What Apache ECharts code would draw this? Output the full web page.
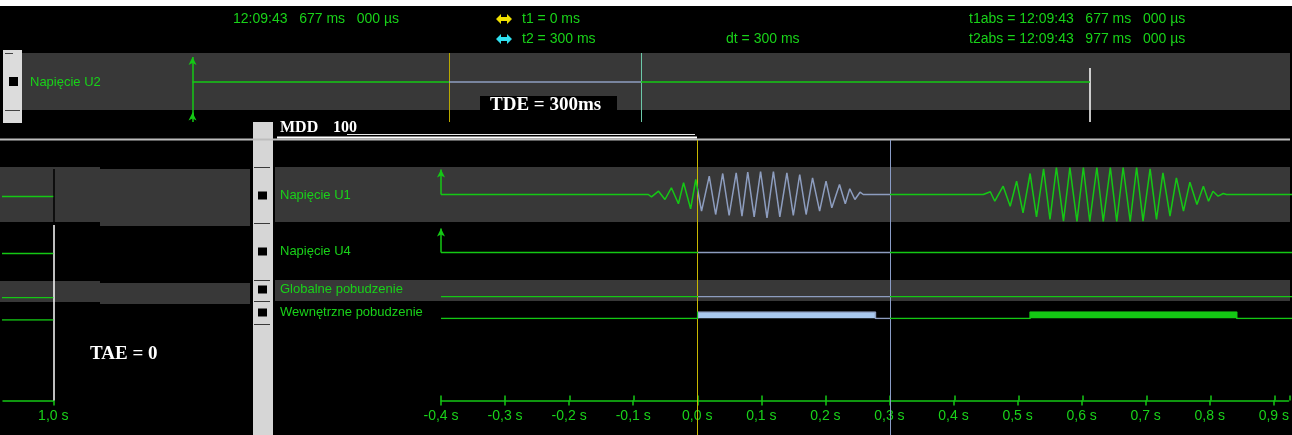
<!DOCTYPE html>
<html><head><meta charset="utf-8">
<script src="https://cdn.jsdelivr.net/npm/echarts@6/dist/echarts.min.js"></script>
<style>html,body{margin:0;padding:0;background:#000;}#c{width:1292px;height:435px;}</style>
</head><body><div id="c"></div>
<script>
// ---------------- data ----------------
const recStart = -0.4, recEnd = 1.0;          // recording range, s
const cursorT1 = 0.0, cursorT2 = 0.3;         // cursors, s
const channelNames = ['Napięcie U2', 'Napięcie U1', 'Napięcie U4', 'Globalne pobudzenie', 'Wewnętrzne pobudzenie'];
const headerTime = '12:09:43   677 ms   000 µs';
const headerT1 = 't1 = 0 ms';
const headerT2 = 't2 = 300 ms';
const headerDt = 'dt = 300 ms';
const headerT1abs = 't1abs = 12:09:43   677 ms   000 µs';
const headerT2abs = 't2abs = 12:09:43   977 ms   000 µs';
const tdeText = 'TDE = 300ms';
const taeText = 'TAE = 0';
// U1 burst 1 (time s, value) – extremes
const u1Burst1 = [[-0.077,0],[-0.072,-2.3],[-0.061,3.3],[-0.051,-5],[-0.041,6.7],[-0.030,-9.3],[-0.022,11.7],[-0.011,-14.3],[-0.003,15],
  [0.006,-16.7],[0.018,18.3],[0.028,-20],[0.039,21],[0.049,-21],[0.060,21.7],[0.069,-21.7],[0.078,22.3],[0.088,-22.3],[0.098,23],
  [0.108,-23.3],[0.118,23],[0.128,-22.3],[0.139,21.7],[0.149,-21],[0.159,20],[0.169,-20],[0.179,16.7],[0.190,-16.7],[0.200,13.3],
  [0.209,-13.3],[0.221,10],[0.230,-9.3],[0.237,5.7],[0.245,-5],[0.253,2.3],[0.258,0]];
// U1 burst 2
const u1Burst2 = [[0.445,0],[0.448,-1.7],[0.456,2.7],[0.463,-6.7],[0.476,8.3],[0.487,-11.7],[0.497,13.3],[0.507,-18.3],[0.518,21],
  [0.528,-22.3],[0.539,25.7],[0.549,-25],[0.559,27],[0.570,-26.7],[0.580,27],[0.591,-27],[0.601,27],[0.611,-27],[0.622,27],
  [0.632,-27],[0.643,27],[0.653,-27],[0.663,27],[0.674,-27],[0.684,27],[0.694,-26.7],[0.705,25.7],[0.715,-25],[0.725,21.7],
  [0.736,-21.7],[0.746,16.7],[0.757,-16.7],[0.767,12.3],[0.778,-10],[0.788,8.3],[0.796,-6.7],[0.803,3.3],[0.811,-1.7],[0.819,1],[0.824,0]];
const u1Values = [[recStart,0]].concat(u1Burst1, [[cursorT2,0]], u1Burst2, [[recEnd,0]]);
const u2Values = [[recStart,0],[cursorT1,0],[cursorT2,0],[recEnd,0]];
const u4Values = [[recStart,0],[cursorT1,0],[cursorT2,0],[recEnd,0]];
const globValues = [[recStart,0],[cursorT1,0],[cursorT2,0],[recEnd,0]];
const wewValues = [[recStart,0],[0.0,1],[0.277,0],[0.518,1],[0.840,0],[recEnd,0]];   // step 'end'

// ---------------- style ----------------
const GREEN = '#14c814', SEL = '#8d9dbf', SELFILL = '#a9c8ee', TXT = '#19d219';
const FONT = '"Liberation Sans", Arial, sans-serif';
const SERIF = '"Liberation Serif", "Times New Roman", serif';

const chart = echarts.init(document.getElementById('c'), null, {renderer: 'canvas'});

// view ranges (scale ~641.7 px/s)
const mainMin = -0.4, mainMax = 0.923;
const topMin = -0.666, topMax = 1.312;
const leftMin = 0.9216, leftMax = 1.0;

const grids = [], xAxes = [], yAxes = [], series = [];
function addGrid(g, x, y) {
  grids.push(Object.assign({containLabel: false}, g));
  const i = grids.length - 1;
  xAxes.push(Object.assign({gridIndex: i, type: 'value', show: false}, x));
  yAxes.push(Object.assign({gridIndex: i, type: 'value', show: false}, y || {min: -1, max: 1}));
  return i;
}
function lineSeries(gi, data, extra) {
  return Object.assign({type: 'line', xAxisIndex: gi, yAxisIndex: gi, data: data, symbol: 'none', silent: true,
    animation: false, color: GREEN, lineStyle: {width: 1.5}, z: 5}, extra || {});
}
const arrowMark = (data) => ({
  silent: true, symbol: ['none', 'arrow'], symbolSize: [6, 8], animation: false,
  lineStyle: {color: GREEN, width: 1.5, type: 'solid'}, label: {show: false}, data: data
});

const visualLineSeries = [], visualFillSeries = [];

// top panel U2 (grid reaches below band so that arrows fit)
const gTop = addGrid({left: 22, top: 53, width: 1268, height: 69}, {min: topMin, max: topMax}, {min: -1.38, max: 1});
series.push(lineSeries(gTop, u2Values, {markLine: arrowMark([
  [{coord: [recStart, -1.2]}, {coord: [recStart, 0.86]}],
  [{coord: [recStart, -1.38]}, {coord: [recStart, -1.05]}]
])}));
visualLineSeries.push(series.length - 1);
// top cursors
const gTopCur = addGrid({left: 22, top: 53, width: 1268, height: 69}, {min: topMin, max: topMax});
series.push(lineSeries(gTopCur, [], {markLine: {silent: true, symbol: 'none', animation: false, label: {show: false},
  data: [{xAxis: cursorT1, lineStyle: {color: '#b8a800', width: 1, type: 'solid'}},
         {xAxis: cursorT2, lineStyle: {color: '#6cc8a8', width: 1, type: 'solid'}}]}}));
const gTopEnd = addGrid({left: 22, top: 68, width: 1268, height: 54}, {min: topMin, max: topMax});
series.push(lineSeries(gTopEnd, [], {markLine: {silent: true, symbol: 'none', animation: false, label: {show: false},
  data: [{xAxis: recEnd, lineStyle: {color: '#ffffff', width: 1.5, type: 'solid'}}]}}));

// main right panel rows
const gU1 = addGrid({left: 441, top: 167, width: 849, height: 55}, {min: mainMin, max: mainMax}, {min: -27.5, max: 27.5});
series.push(lineSeries(gU1, u1Values, {markLine: arrowMark([[{coord: [recStart, 0]}, {coord: [recStart, 25]}]])}));
visualLineSeries.push(series.length - 1);
const gU4 = addGrid({left: 441, top: 225, width: 849, height: 55}, {min: mainMin, max: mainMax}, {min: -27.5, max: 27.5});
series.push(lineSeries(gU4, u4Values, {markLine: arrowMark([[{coord: [recStart, 0]}, {coord: [recStart, 24]}]])}));
visualLineSeries.push(series.length - 1);
const gGlob = addGrid({left: 441, top: 280, width: 849, height: 16.7}, {min: mainMin, max: mainMax}, {min: 0, max: 1});
series.push(lineSeries(gGlob, globValues));
visualLineSeries.push(series.length - 1);
const gWew = addGrid({left: 441, top: 312, width: 849, height: 6.5}, {min: mainMin, max: mainMax}, {min: 0, max: 1});
series.push(lineSeries(gWew, wewValues, {step: 'end', lineStyle: {width: 0}, areaStyle: {opacity: 1}, z: 4}));
visualFillSeries.push(series.length - 1);
series.push(lineSeries(gWew, wewValues, {step: 'end'}));
visualLineSeries.push(series.length - 1);

// main time axis (ticks out + labels)
const axisLabelFmt = v => v.toFixed(1).replace('.', ',') + ' s';
const gAx = addGrid({left: 441, top: 300, width: 849, height: 100.5},
  {show: true, min: mainMin, max: mainMax, interval: 0.1, position: 'bottom',
   axisLine: {show: true, onZero: false, lineStyle: {color: GREEN, width: 1.5}},
   axisTick: {show: true, length: 5, lineStyle: {color: GREEN, width: 1.5}},
   axisLabel: {show: true, color: TXT, fontFamily: FONT, fontSize: 14, margin: 9, formatter: axisLabelFmt, showMaxLabel: false},
   splitLine: {show: false}});
series.push(lineSeries(gAx, []));
const gAx2 = addGrid({left: 441, top: 300, width: 849, height: 100.5},
  {show: true, min: mainMin, max: mainMax, interval: 0.1, position: 'bottom',
   axisLine: {show: false, onZero: false}, axisTick: {show: true, inside: true, length: 5, lineStyle: {color: GREEN, width: 1.5}},
   axisLabel: {show: false}, splitLine: {show: false}});
series.push(lineSeries(gAx2, []));

// cursor lines over right panel
const gCur = addGrid({left: 441, top: 140, width: 849, height: 295}, {min: mainMin, max: mainMax});
series.push(lineSeries(gCur, [], {z: 8, markLine: {silent: true, symbol: 'none', animation: false, label: {show: false},
  data: [{xAxis: cursorT1, lineStyle: {color: '#c8b800', width: 1, type: 'solid'}},
         {xAxis: cursorT2, lineStyle: {color: '#8a9cc6', width: 1, type: 'solid'}}]}}));

// left mini panel (end of recording)
const gU1L = addGrid({left: 3, top: 169, width: 50.3, height: 55}, {min: leftMin, max: leftMax}, {min: -27.5, max: 27.5});
series.push(lineSeries(gU1L, u1Values, {markLine: {silent: true, symbol: 'none', animation: false, label: {show: false},
  data: [{xAxis: recEnd, lineStyle: {color: '#000', width: 1.5, type: 'solid'}}]}}));
const gU4L = addGrid({left: 3, top: 226, width: 50.3, height: 55}, {min: leftMin, max: leftMax}, {min: -27.5, max: 27.5});
series.push(lineSeries(gU4L, u4Values));
const gGlobL = addGrid({left: 3, top: 281, width: 50.3, height: 16.7}, {min: leftMin, max: leftMax}, {min: 0, max: 1});
series.push(lineSeries(gGlobL, globValues));
const gWewL = addGrid({left: 3, top: 313.5, width: 50.3, height: 6.5}, {min: leftMin, max: leftMax}, {min: 0, max: 1});
series.push(lineSeries(gWewL, wewValues, {step: 'end'}));
const gAxL = addGrid({left: 3, top: 225, width: 50.3, height: 175.5},
  {show: true, min: leftMin, max: leftMax, position: 'bottom',
   axisLine: {show: true, onZero: false, lineStyle: {color: GREEN, width: 1.5}},
   axisTick: {show: true, length: 5, customValues: [recEnd], lineStyle: {color: GREEN, width: 1.5}},
   axisLabel: {show: true, color: TXT, fontFamily: FONT, fontSize: 14, margin: 9, customValues: [recEnd], formatter: axisLabelFmt},
   splitLine: {show: false}});
series.push(lineSeries(gAxL, [], {z: 6, markLine: {silent: true, symbol: 'none', animation: false, label: {show: false},
  data: [{xAxis: recEnd, lineStyle: {color: '#ffffff', width: 1.5, type: 'solid'}}]}}));

// ---------------- graphics (panels, labels, texts) ----------------
const G = [];
const rect = (x, y, w, h, fill, z) => G.push({type: 'rect', shape: {x, y, width: w, height: h}, style: {fill}, z: z || 0, silent: true});
const line = (x1, y1, x2, y2, stroke, w, z) => G.push({type: 'line', shape: {x1, y1, x2, y2}, style: {stroke, lineWidth: w || 1}, z: z || 1, silent: true});
const text = (x, y, s, fill, font, extra) => G.push(Object.assign({type: 'text', x, y, style: {text: s, fill, font, textVerticalAlign: 'middle', textBaseline: 'middle'}, z: 10, silent: true}, extra || {}));
const dblArrow = (x, y, fill) => G.push({type: 'polygon', x, y, shape: {points: [[0,0],[5,-5],[5,-2],[11,-2],[11,-5],[16,0],[11,5],[11,2],[5,2],[5,5]]}, style: {fill}, z: 10, silent: true});

rect(0, 0, 1292, 6, '#ffffff', 0);
// bands
rect(22, 53, 1268, 57, '#383838', 0);
rect(275, 167, 1015, 55, '#383838', 0);
rect(275, 280, 1015, 21, '#383838', 0);
rect(0, 167, 100, 55, '#383838', 0);
rect(100, 169, 150, 57, '#383838', 0);
rect(0, 281, 100, 21, '#383838', 0);
rect(100, 283, 150, 21, '#383838', 0);
// top label column
rect(3, 50, 19, 73, '#dcdcdc', 1);
rect(9, 77, 9, 9, '#000', 2);
line(5, 53.5, 13, 53.5, '#444', 1, 2);
line(5, 110.5, 20, 110.5, '#444', 1, 2);
// right label column
rect(253, 122, 20, 313, '#d6d6d6', 1);
[195.5, 251.5, 289.5, 312.5].forEach(y => rect(258, y - 4, 9, 8, '#000', 2));
[167.5, 223.5, 280.5, 301.5, 324.5].forEach(y => line(254, y, 270, y, '#3a3a3a', 1, 2));
// separator lines
line(0, 139.5, 1290, 139.5, '#bdbdbd', 2, 1);
line(277, 137.5, 697, 137.5, '#ffffff', 2, 2);
line(347, 134.5, 695, 134.5, '#e8e8e8', 1, 2);
text(280, 128, 'MDD', '#ffffff', 'bold 16px ' + SERIF);
text(333, 128, '100', '#ffffff', 'bold 16px ' + SERIF);
// header
text(233, 19, headerTime, TXT, '14px ' + FONT);
dblArrow(496, 19, '#f0e000');
text(522, 19, headerT1, TXT, '14px ' + FONT);
dblArrow(496, 39, '#30e0f0');
text(522, 39, headerT2, TXT, '14px ' + FONT);
text(726, 39, headerDt, TXT, '14px ' + FONT);
text(969, 19, headerT1abs, TXT, '14px ' + FONT);
text(969, 39, headerT2abs, TXT, '14px ' + FONT);
// channel labels
text(30, 82, channelNames[0], TXT, '13px ' + FONT);
text(280, 195.5, channelNames[1], TXT, '13px ' + FONT);
text(280, 251.5, channelNames[2], TXT, '13px ' + FONT);
text(280, 289.5, channelNames[3], TXT, '13px ' + FONT);
text(280, 312.5, channelNames[4], TXT, '13px ' + FONT);
// TDE / TAE
rect(480, 96, 137, 18, '#000', 9);
text(490, 105, tdeText, '#ffffff', 'bold 19px ' + SERIF);
text(90, 354, taeText, '#ffffff', 'bold 19px ' + SERIF);

const option = {
  backgroundColor: '#000',
  animation: false,
  grid: grids, xAxis: xAxes, yAxis: yAxes,
  visualMap: [
    {type: 'piecewise', show: false, dimension: 0, seriesIndex: visualLineSeries,
     pieces: [{lt: cursorT1, color: GREEN}, {gte: cursorT1, lte: cursorT2, color: SEL}, {gt: cursorT2, color: GREEN}],
     outOfRange: {color: GREEN}},
    {type: 'piecewise', show: false, dimension: 0, seriesIndex: visualFillSeries,
     pieces: [{lt: cursorT1, color: GREEN}, {gte: cursorT1, lte: cursorT2, color: SELFILL}, {gt: cursorT2, color: GREEN}],
     outOfRange: {color: GREEN}}
  ],
  series: series,
  graphic: G
};
chart.setOption(option);
</script></body></html>
